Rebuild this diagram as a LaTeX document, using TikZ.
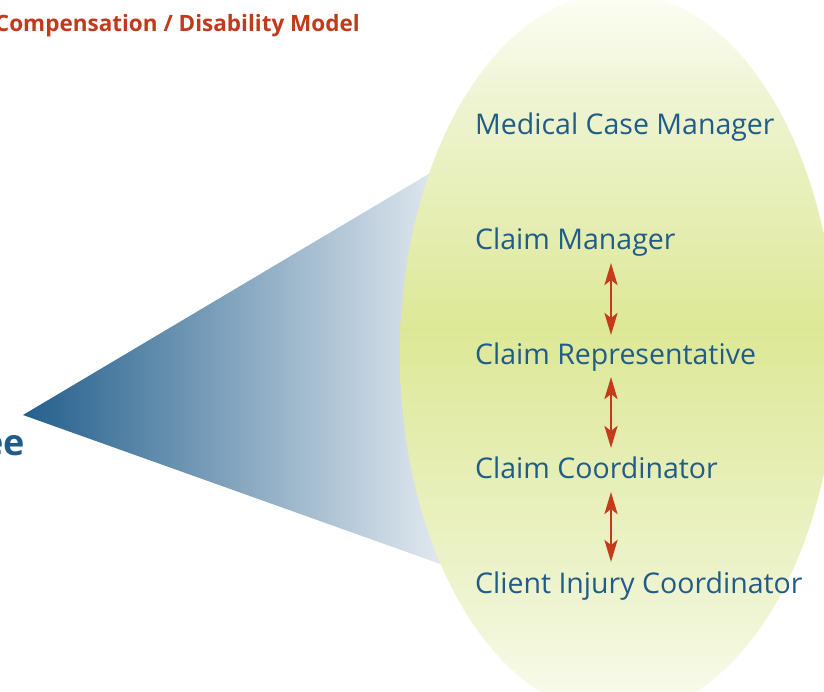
\documentclass[tikz,border=0pt]{standalone}
\usepackage{fontspec}
\setmainfont{Open Sans}
\usetikzlibrary{arrows.meta}
\definecolor{titlered}{HTML}{C23A1C}
\definecolor{textblue}{HTML}{215C88}
\definecolor{arrred}{HTML}{C43A1B}
\definecolor{triL}{HTML}{245F8C}
\definecolor{triR}{HTML}{EAEFF4}
\definecolor{gtop}{HTML}{FCFDF4}
\definecolor{gup}{HTML}{EEF4D2}
\definecolor{gmid}{HTML}{DDE897}
\definecolor{glow}{HTML}{EEF4D0}
\definecolor{gbot}{HTML}{F8FAEA}
\pgfdeclareverticalshading{ellshade}{100bp}{color(0bp)=(gbot); color(26.6bp)=(gbot); color(33bp)=(glow); color(51.7bp)=(gmid); color(67.6bp)=(gup); color(74.5bp)=(gtop); color(100bp)=(gtop)}
\tikzset{
  lbl/.style={anchor=base west, inner sep=0pt, text=textblue, font=\fontsize{28.5}{34}\selectfont},
  ttl/.style={anchor=base east, inner sep=0pt, text=titlered, font=\fontsize{22.5}{27}\selectfont\bfseries},
  bigee/.style={anchor=base east, inner sep=0pt, text=textblue, font=\fontsize{36}{40}\selectfont\bfseries},
  dblarrow/.style={draw=arrred, line width=2.8pt, {Stealth[length=22pt,width=13pt,inset=5pt]}-{Stealth[length=22pt,width=13pt,inset=5pt]}}
}
\begin{document}
\begin{tikzpicture}[x=1pt,y=1pt]
\fill[white] (0,0) rectangle (824,-692);
\useasboundingbox (0,0) rectangle (824,-692);
% cone
\shade[left color=triL, right color=triR] (23,-415) -- (460,-155.4) -- (460,-571) -- cycle;
% ellipse
\shade[shading=ellshade] (618,-354) ellipse [x radius=218pt, y radius=361.5pt];
% title and left label
\node[ttl] (title) at (360,-31.5) {Compensation / Disability Model};
\node[bigee] (ee) at (25,-455) {ee};
% labels
\node[lbl] (mcm) at (475,-135) {Medical Case Manager};
\node[lbl] (cm) at (475,-249.5) {Claim Manager};
\node[lbl] (cr) at (475,-364) {Claim Representative};
\node[lbl] (cc) at (475,-478.5) {Claim Coordinator};
\node[lbl] (cic) at (475,-593) {Client Injury Coordinator};
% arrows
\coordinate (a1t) at (611,-263);
\coordinate (a1b) at (611,-335);
\coordinate (a2t) at (611,-377);
\coordinate (a2b) at (611,-448);
\coordinate (a3t) at (611,-492);
\coordinate (a3b) at (611,-562);
\draw[dblarrow] (a1t) -- (a1b);
\draw[dblarrow] (a2t) -- (a2b);
\draw[dblarrow] (a3t) -- (a3b);
\end{tikzpicture}
\end{document}
